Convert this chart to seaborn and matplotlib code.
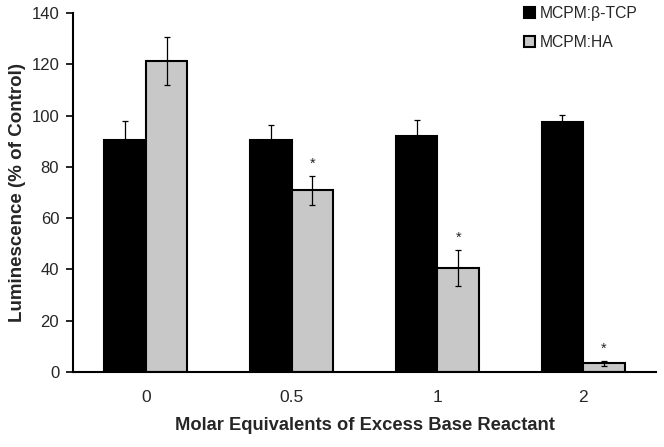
import matplotlib
matplotlib.use("Agg")
import matplotlib.pyplot as plt
import seaborn as sns
import pandas as pd
import numpy as np

categories = ["0", "0.5", "1", "2"]
series_names = ["MCPM:β-TCP", "MCPM:HA"]
tcp_values = [90.4, 90.4, 92.0, 97.5]
tcp_errors = [7.4, 6.0, 6.1, 2.8]
ha_values = [121.3, 70.8, 40.5, 3.4]
ha_errors = [9.4, 5.6, 7.0, 1.0]
ha_significant = [False, True, True, True]
yticks = [0, 20, 40, 60, 80, 100, 120, 140]

sns.set_style("white")
plt.rcParams['font.family'] = ['Liberation Sans', 'DejaVu Sans']

df = pd.DataFrame({
    "cat": categories * 2,
    "series": [series_names[0]] * 4 + [series_names[1]] * 4,
    "value": tcp_values + ha_values,
})

fig = plt.figure(figsize=(6.64, 4.47), dpi=100)
ax = fig.add_axes([0.110, 0.168, 0.878, 0.803])
sns.barplot(data=df, x="cat", y="value", hue="series", order=categories,
            hue_order=series_names, palette=["#000000", "#c8c8c8"],
            width=0.57, edgecolor="black", linewidth=1.5, errorbar=None, ax=ax)

patches = list(ax.patches)[:8]
errs = tcp_errors + ha_errors
vals = tcp_values + ha_values
sig = [False] * 4 + ha_significant
for p, v, e, s in zip(patches, vals, errs, sig):
    cx = p.get_x() + p.get_width() / 2
    ax.errorbar(cx, v, yerr=e, ecolor="black", elinewidth=0.9,
                capsize=2.2, capthick=0.9, fmt="none", zorder=5)
    if s:
        ax.text(cx, v + e + 2.0, "*", ha="center", va="bottom", fontsize=10.5)

ax.set_ylim(0, 140)
ax.set_xlim(-0.5, 3.5)
ax.set_yticks(yticks)
ax.set_yticklabels([str(t) for t in yticks], fontsize=12)
ax.set_xticks(range(4))
ax.set_xticklabels(categories, fontsize=12.5)
ax.set_xticks(np.arange(-0.5, 4.0, 1.0), minor=True)
ax.tick_params(axis="x", which="major", length=0, pad=13)
ax.tick_params(axis="x", which="minor", length=5, width=1.2, direction="out", color="black")
ax.tick_params(axis="y", length=5, width=1.2, direction="out", color="black", left=True, pad=5)
for side in ["top", "right"]:
    ax.spines[side].set_visible(False)
for side in ["left", "bottom"]:
    ax.spines[side].set_color("black")
    ax.spines[side].set_linewidth(1.5)

ax.set_xlabel("Molar Equivalents of Excess Base Reactant", fontsize=13.2, fontweight="bold", labelpad=9)
ax.set_ylabel("Luminescence (% of Control)", fontsize=13.5, fontweight="bold", labelpad=4)

leg = ax.legend(loc="upper right", bbox_to_anchor=(0.985, 1.045), frameon=False, fontsize=11.3,
                handlelength=0.7, handleheight=0.7, handletextpad=0.3, labelspacing=0.85,
                borderaxespad=0.2)

fig.savefig("out.png", dpi=100)
